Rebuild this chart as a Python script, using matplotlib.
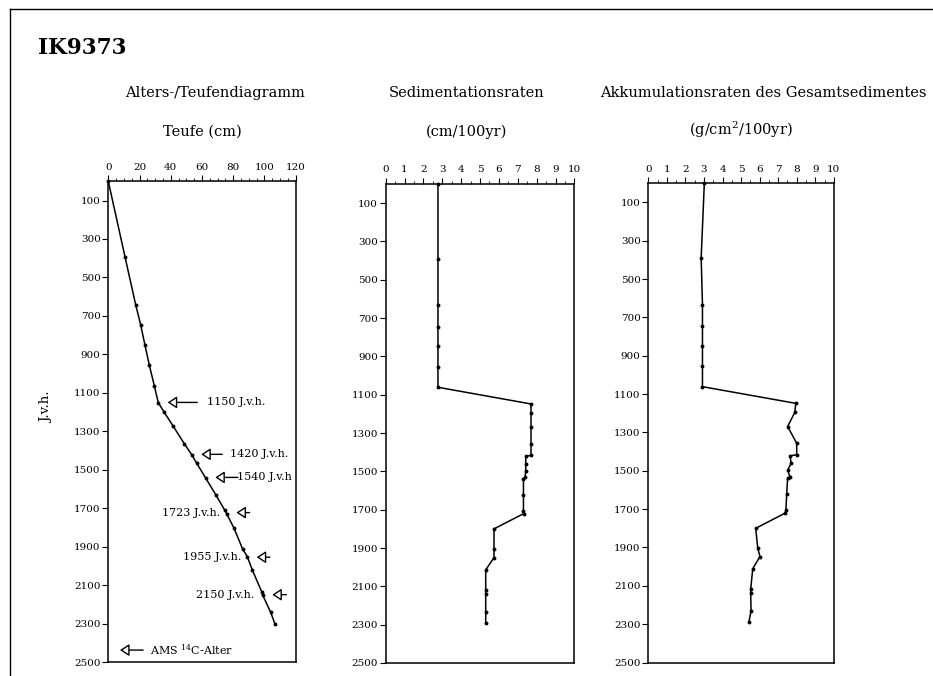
import matplotlib
matplotlib.use("Agg")
import matplotlib.pyplot as plt
from matplotlib.ticker import MultipleLocator, FixedLocator
from matplotlib.lines import Line2D

plt.rcParams['font.family'] = ['DejaVu Serif']
plt.rcParams['mathtext.fontset'] = 'dejavuserif'

# ---------------- data ----------------
# Age/depth model (left panel)
age_model_age = [0, 393, 641, 745, 853, 957, 1065, 1151, 1200, 1274, 1365, 1422, 1466,
                 1544, 1630, 1712, 1729, 1804, 1912, 1952, 2021, 2134, 2151, 2242, 2302]
age_model_depth = [0, 10.7, 17.5, 20.7, 23.5, 26.3, 29.5, 32, 35.7, 41.6, 48.7, 53.4, 56.6,
                   62.4, 68.8, 74.7, 75.8, 80.5, 86, 89, 92.2, 98.2, 98.8, 104, 106.7]

# AMS 14C dates
c14_ages = [1150, 1420, 1540, 1723, 1955, 2150]
c14_depths = [32, 53.5, 62.5, 76, 89, 99]
c14_labels = ["1150 J.v.h.", "1420 J.v.h.", "1540 J.v.h", "1723 J.v.h.", "1955 J.v.h.", "2150 J.v.h."]

# Sedimentation rates (middle panel)
sed_age = [0, 389, 633, 744, 847, 955, 1061, 1148, 1196, 1269, 1359, 1416, 1422, 1462,
           1500, 1531, 1540, 1621, 1708, 1720, 1800, 1903, 1950, 2014, 2118, 2140, 2235, 2291]
sed_rate = [2.77, 2.77, 2.77, 2.77, 2.77, 2.77, 2.77, 7.7, 7.7, 7.7, 7.7, 7.7, 7.42, 7.42,
            7.42, 7.38, 7.3, 7.3, 7.3, 7.32, 5.74, 5.74, 5.74, 5.3, 5.3, 5.3, 5.3, 5.3]

# Accumulation rates of total sediment (right panel)
acc_age = [0, 389, 633, 744, 847, 955, 1061, 1148, 1195, 1269, 1356, 1416, 1422, 1460,
           1497, 1531, 1540, 1621, 1703, 1720, 1800, 1903, 1947, 2011, 2118, 2140, 2230, 2291]
acc_rate = [3.02, 2.85, 2.92, 2.92, 2.92, 2.92, 2.92, 7.95, 7.9, 7.51, 8.0, 8.0, 7.64, 7.7,
            7.51, 7.64, 7.51, 7.46, 7.42, 7.39, 5.79, 5.9, 6.02, 5.63, 5.52, 5.52, 5.54, 5.42]

y_ticks = list(range(100, 2600, 200))

# ---------------- figure ----------------
W, H = 933, 676
fig = plt.figure(figsize=(W / 100, H / 100), dpi=100)


def px_axes(x0, x1, ytop, ybot):
    return fig.add_axes([x0 / W, 1 - ybot / H, (x1 - x0) / W, (ybot - ytop) / H])


def fx(x):
    return x / W


def fy(y):
    return 1 - y / H


ax1 = px_axes(108.3, 295.7, 181.3, 662)
ax2 = px_axes(385.7, 574.4, 184, 663)
ax3 = px_axes(648.3, 833.8, 183.3, 662.5)

FS_TICK = 7.5
for ax in (ax1, ax2, ax3):
    ax.set_ylim(2500, 0)
    ax.yaxis.set_major_locator(FixedLocator(y_ticks))
    ax.xaxis.tick_top()
    ax.tick_params(axis='x', which='major', direction='out', length=4, width=0.8,
                   pad=3, labelsize=FS_TICK)
    ax.tick_params(axis='x', which='minor', direction='out', length=2, width=0.6)
    ax.tick_params(axis='y', which='major', direction='out', length=4, width=0.8,
                   pad=1.5, labelsize=FS_TICK)
    for s in ax.spines.values():
        s.set_linewidth(1.1)

ax1.set_xlim(0, 120)
ax1.xaxis.set_major_locator(MultipleLocator(20))
ax1.xaxis.set_minor_locator(MultipleLocator(5))
for ax in (ax2, ax3):
    ax.set_xlim(0, 10)
    ax.xaxis.set_major_locator(MultipleLocator(1))
    ax.xaxis.set_minor_locator(MultipleLocator(0.5))

line_kw = dict(color='black', lw=1.1, marker='o', ms=1.8, mfc='black', mec='black',
               clip_on=False)
ax1.plot(age_model_depth, age_model_age, **line_kw)
ax2.plot(sed_rate, sed_age, **line_kw)
ax3.plot(acc_rate, acc_age, **line_kw)

# ---------------- 14C annotations ----------------
arrow_kw = dict(arrowstyle='-|>,head_length=0.55,head_width=0.36', fc='white', ec='black',
                lw=1.0, mutation_scale=10, shrinkA=0, shrinkB=0)
# (tail length in cm, text side, text x in cm)
ann_layout = [(19, 'right', 63), (13.5, 'right', 78), (14.5, 'right', 82.2),
              (8.5, 'left', 71.5), (8.5, 'left', 85.4), (9, 'left', 93.3)]
for age, depth, lab, (tail, side, tx) in zip(c14_ages, c14_depths, c14_labels, ann_layout):
    tip = depth + 6
    ax1.annotate('', xy=(tip, age), xytext=(tip + tail, age), arrowprops=arrow_kw,
                 annotation_clip=False)
    ha = 'left' if side == 'right' else 'right'
    ax1.text(tx, age, lab, ha=ha, va='center', fontsize=8, clip_on=False)

# legend-like AMS marker
ax1.annotate('', xy=(7.5, 2438), xytext=(22.3, 2438), arrowprops=arrow_kw,
             annotation_clip=False)
ax1.text(27, 2438, r'AMS $^{14}$C-Alter', ha='left', va='center', fontsize=8)

# ---------------- texts ----------------
fig.text(fx(38), fy(48), 'IK9373', fontsize=15.5, fontweight='bold', ha='left', va='center')

FS_T = 10.5
fig.text(fx(215), fy(93), 'Alters-/Teufendiagramm', fontsize=FS_T, ha='center', va='center')
fig.text(fx(467), fy(93), 'Sedimentationsraten', fontsize=FS_T, ha='center', va='center')
fig.text(fx(763), fy(93), 'Akkumulationsraten des Gesamtsedimentes', fontsize=FS_T,
         ha='center', va='center')
fig.text(fx(202), fy(132), 'Teufe (cm)', fontsize=FS_T, ha='center', va='center')
fig.text(fx(467), fy(132), '(cm/100yr)', fontsize=FS_T, ha='center', va='center')
fig.text(fx(741), fy(130), r'(g/cm$^2$/100yr)', fontsize=FS_T, ha='center', va='center')

fig.text(fx(47), fy(407), 'J.v.h.', fontsize=9.5, rotation=90, ha='center', va='center')

# outer frame (left and top border lines)
fig.add_artist(Line2D([fx(10), fx(10)], [fy(9), 0], color='black', lw=1.0,
                      transform=fig.transFigure))
fig.add_artist(Line2D([fx(10), 1], [fy(9), fy(9)], color='black', lw=1.0,
                      transform=fig.transFigure))

fig.savefig('out.png', dpi=100)
